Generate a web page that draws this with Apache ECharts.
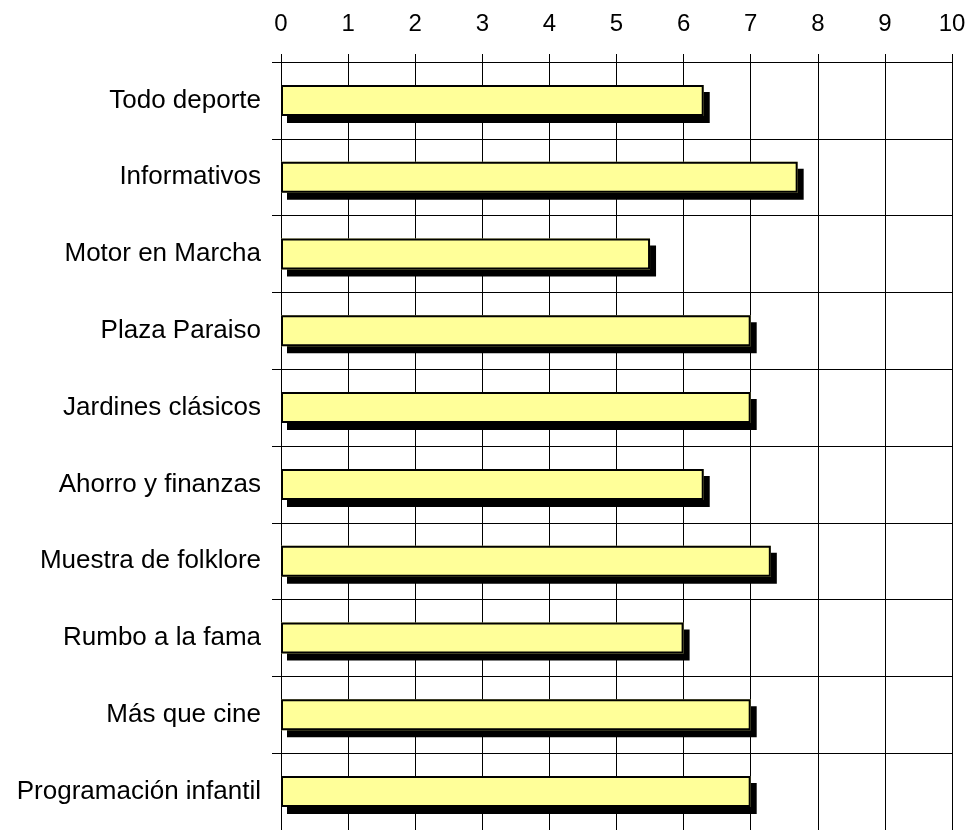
<!DOCTYPE html>
<html>
<head>
<meta charset="utf-8">
<script src="https://cdn.jsdelivr.net/npm/echarts@6/dist/echarts.min.js"></script>
<style>
html,body{margin:0;padding:0;background:#fff;}
#chart{width:972px;height:830px;}
</style>
</head>
<body>
<div id="chart"></div>
<script>
const categories = [
  'Todo deporte',
  'Informativos',
  'Motor en Marcha',
  'Plaza Paraiso',
  'Jardines clásicos',
  'Ahorro y finanzas',
  'Muestra de folklore',
  'Rumbo a la fama',
  'Más que cine',
  'Programación infantil'
];
const values = [6.3, 7.7, 5.5, 7.0, 7.0, 6.3, 7.3, 6.0, 7.0, 7.0];

const chart = echarts.init(document.getElementById('chart'), null, {renderer: 'canvas'});
chart.setOption({
  backgroundColor: '#fff',
  animation: false,
  grid: {left: 281, right: 20, top: 62, height: 770, containLabel: false},
  xAxis: {
    type: 'value',
    position: 'top',
    min: 0, max: 10, interval: 1,
    axisLine: {show: true, lineStyle: {color: '#000', width: 1}},
    axisTick: {show: true, inside: false, length: 8, lineStyle: {color: '#000', width: 1}},
    axisLabel: {color: '#000', fontFamily: 'Liberation Sans, Arial, sans-serif', fontSize: 24, margin: 26},
    splitLine: {show: true, lineStyle: {color: '#000', width: 1}}
  },
  yAxis: {
    type: 'category',
    data: categories,
    inverse: true,
    axisLine: {show: true, lineStyle: {color: '#000', width: 1}},
    axisTick: {show: true, length: 9, lineStyle: {color: '#000', width: 1}},
    axisLabel: {color: '#000', fontFamily: 'Liberation Sans, Arial, sans-serif', fontSize: 26, margin: 20},
    splitLine: {show: true, lineStyle: {color: '#000', width: 1}}
  },
  series: [{
    type: 'bar',
    data: values,
    barWidth: 31,
    barGap: '-100%',
    itemStyle: {
      color: '#FFFF99',
      borderWidth: 0,
      shadowColor: '#000',
      shadowBlur: 0,
      shadowOffsetX: 6,
      shadowOffsetY: 7
    }
  }, {
    type: 'bar',
    data: values,
    barWidth: 31,
    barGap: '-100%',
    silent: true,
    itemStyle: {
      color: 'rgba(0,0,0,0)',
      borderColor: '#000',
      borderWidth: 2
    }
  }]
});
</script>
</body>
</html>
